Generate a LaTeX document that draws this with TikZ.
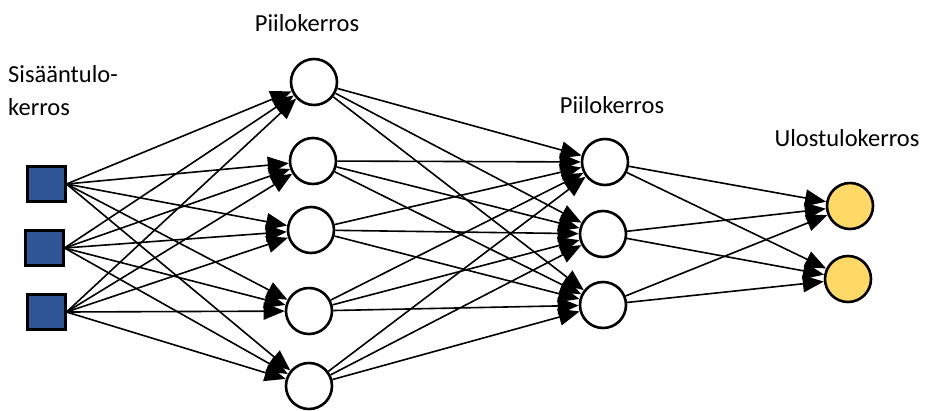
\documentclass[tikz,border=0pt]{standalone}
\usepackage{fontspec}
\setmainfont{Carlito}
\usetikzlibrary{arrows.meta}
\definecolor{inblue}{HTML}{2F5597}
\definecolor{outyellow}{HTML}{FFD966}
\tikzset{
  insq/.style={draw=black, line width=3pt, fill=inblue, minimum width=38pt, minimum height=35pt, inner sep=0pt},
  hid/.style={circle, draw=black, line width=2.6pt, fill=white, minimum size=46pt, inner sep=0pt},
  outc/.style={circle, draw=black, line width=2.6pt, fill=outyellow, minimum size=46pt, inner sep=0pt},
  conn/.style={line width=1.6pt, -{Triangle[length=21pt,width=17pt]}},
  lbl/.style={font=\fontsize{24.5}{29}\selectfont, inner sep=0pt}
}
\begin{document}
\begin{tikzpicture}[x=1pt,y=-1pt]
\useasboundingbox (0,0) rectangle (925,410);
% input
\node[insq] (i1) at (46,184) {};
\node[insq] (i2) at (44,248) {};
\node[insq] (i3) at (46,312) {};
% hidden 1
\node[hid] (a1) at (314,82) {};
\node[hid] (a2) at (313,161) {};
\node[hid] (a3) at (311,230) {};
\node[hid] (a4) at (309,311) {};
\node[hid] (a5) at (309,386) {};
% hidden 2
\node[hid] (b1) at (605,162) {};
\node[hid] (b2) at (603,234) {};
\node[hid] (b3) at (603,305) {};
% output
\node[outc] (o1) at (850,206) {};
\node[outc] (o2) at (848,279) {};
% labels
\node[lbl] (l1) at (307,23) {Piilokerros};
\node[lbl, anchor=west] (l2) at (8,74) {Sisääntulo-};
\node[lbl, anchor=west] (l3) at (8,107) {kerros};
\node[lbl] (l4) at (612,105) {Piilokerros};
\node[lbl] (l5) at (847,138) {Ulostulokerros};
% connections
\foreach \s in {i1,i2,i3}
  \foreach \t in {a1,a2,a3,a4,a5}
    \draw[conn] (\s.east) -- (\t);
\foreach \s in {a1,a2,a3,a4,a5}
  \foreach \t in {b1,b2,b3}
    \draw[conn] (\s) -- (\t);
\foreach \s in {b1,b2,b3}
  \foreach \t in {o1,o2}
    \draw[conn] (\s) -- (\t);
\end{tikzpicture}
\end{document}
